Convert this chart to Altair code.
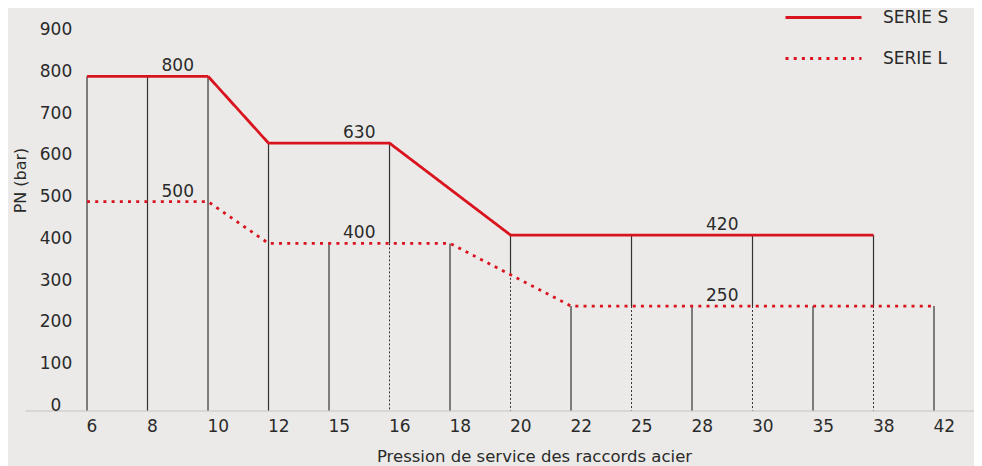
import json
import altair as alt
import pandas as pd

# ---------------- data ----------------
categories = ["6", "8", "10", "12", "15", "16", "18", "20", "22", "25", "28", "30", "35", "38", "42"]

serie_s_x = ["6", "10", "12", "16", "20", "38"]
serie_s_y = [800, 800, 640, 640, 420, 420]

serie_l_x = ["6", "10", "12", "18", "22", "42"]
serie_l_y = [500, 500, 400, 400, 250, 250]

# vertical rules at each category: top, end of solid part, dotted below it
rule_top = [800, 800, 800, 640, 400, 640, 400, 420, 250, 420, 250, 420, 250, 420, 250]
rule_solid_end = [0, 0, 0, 0, 0, 400, 0, 327, 0, 250, 0, 250, 0, 250, 0]

label_text = ["800", "500", "630", "400", "420", "250"]
label_between = [("8", "10"), ("8", "10"), ("15", "16"), ("15", "16"), ("28", "30"), ("28", "30")]
label_value = [800, 500, 640, 400, 420, 250]

series_names = ["SERIE S", "SERIE L"]

# ---------------- tables ----------------
idx = {c: i for i, c in enumerate(categories)}

lines_df = pd.DataFrame(
    [{"serie": "SERIE S", "i": idx[c], "v": v} for c, v in zip(serie_s_x, serie_s_y)]
    + [{"serie": "SERIE L", "i": idx[c], "v": v} for c, v in zip(serie_l_x, serie_l_y)]
)

rules_df = pd.DataFrame({
    "i": list(range(len(categories))),
    "top": rule_top,
    "mid": rule_solid_end,
})
dotted_df = rules_df[rules_df["mid"] > 0]

labels_df = pd.DataFrame({
    "t": label_text,
    "i": [(idx[a] + idx[b]) / 2 for a, b in label_between],
    "v": label_value,
})

RED = "#d9141f"
INK = "#2a2a2a"
FONT = "DejaVu Sans"

x_scale = alt.Scale(domain=[-1.025, 14.661], nice=False, zero=False)
y_scale = alt.Scale(domain=[0, 900], nice=False)

label_expr = json.dumps(categories) + "[datum.value]"

x_axis = alt.Axis(
    values=list(range(len(categories))),
    labelExpr=label_expr,
    grid=False, ticks=False, tickSize=0,
    domain=True, domainColor="#d2d1cf", domainWidth=1.5,
    labelAlign="left", labelOffset=-1, labelBaseline="middle", labelPadding=16,
    labelFont=FONT, labelFontSize=17, labelColor=INK,
    title="Pression de service des raccords acier",
    titleFont=FONT, titleFontSize=16.5, titleFontWeight="normal", titleColor=INK,
    titleX=509, titleY=46, titleAlign="center", titleBaseline="middle", titleAnchor="start",
)
y_axis = alt.Axis(
    values=list(range(0, 901, 100)),
    grid=False, ticks=False, tickSize=0, domain=False,
    offset=-30.5, labelPadding=0, labelAlign="center", labelBaseline="alphabetic",
    labelFont=FONT, labelFontSize=17, labelColor=INK,
    title="PN (bar)",
    titleFont=FONT, titleFontSize=16, titleFontWeight="normal", titleColor=INK,
    titleX=-35.5, titleY=145.5, titleAngle=270, titleAlign="center", titleBaseline="middle",
    titleAnchor="start",
)

base_x = alt.X("i:Q", scale=x_scale, axis=x_axis)

solid_rules = alt.Chart(rules_df).mark_rule(color="#333333", strokeWidth=1.2).encode(
    x=base_x,
    y=alt.Y("top:Q", scale=y_scale, axis=y_axis),
    y2="mid:Q",
)

dotted_rules = alt.Chart(dotted_df).mark_rule(
    color="#333333", strokeWidth=1, strokeDash=[2, 2]
).encode(
    x=alt.X("i:Q", scale=x_scale),
    y=alt.Y("mid:Q", scale=y_scale),
    y2=alt.datum(0),
)

legend = alt.Legend(
    title=None, orient="none", legendX=790, legendY=-25.5,
    symbolType="M-7.6,0H7.6", symbolSize=100, symbolStrokeWidth=2.8,
    labelFont=FONT, labelFontSize=17, labelColor=INK, labelOffset=51,
    rowPadding=23,
)

series_lines = alt.Chart(lines_df).mark_line(strokeWidth=2.8).encode(
    x=alt.X("i:Q", scale=x_scale),
    y=alt.Y("v:Q", scale=y_scale),
    color=alt.Color("serie:N", scale=alt.Scale(domain=series_names, range=[RED, RED]), legend=legend),
    strokeDash=alt.StrokeDash(
        "serie:N",
        scale=alt.Scale(domain=series_names, range=[[1, 0], [3, 5.2]]),
        legend=legend,
    ),
    order="i:Q",
)

value_labels = alt.Chart(labels_df).mark_text(
    font=FONT, fontSize=17, color=INK, dy=-10, baseline="middle", align="center"
).encode(
    x=alt.X("i:Q", scale=x_scale),
    y=alt.Y("v:Q", scale=y_scale),
    text="t:N",
)

chart = alt.layer(solid_rules, dotted_rules, series_lines, value_labels).properties(
    width=949,
    height=376,
    background="#ebeae8",
    autosize=alt.AutoSizeParams(type="none"),
    padding={"left": 17, "top": 26.5, "right": 0, "bottom": 55.5},
).configure_view(stroke=None)

chart.save("out.html", embed_options={"renderer": "svg", "actions": False})
